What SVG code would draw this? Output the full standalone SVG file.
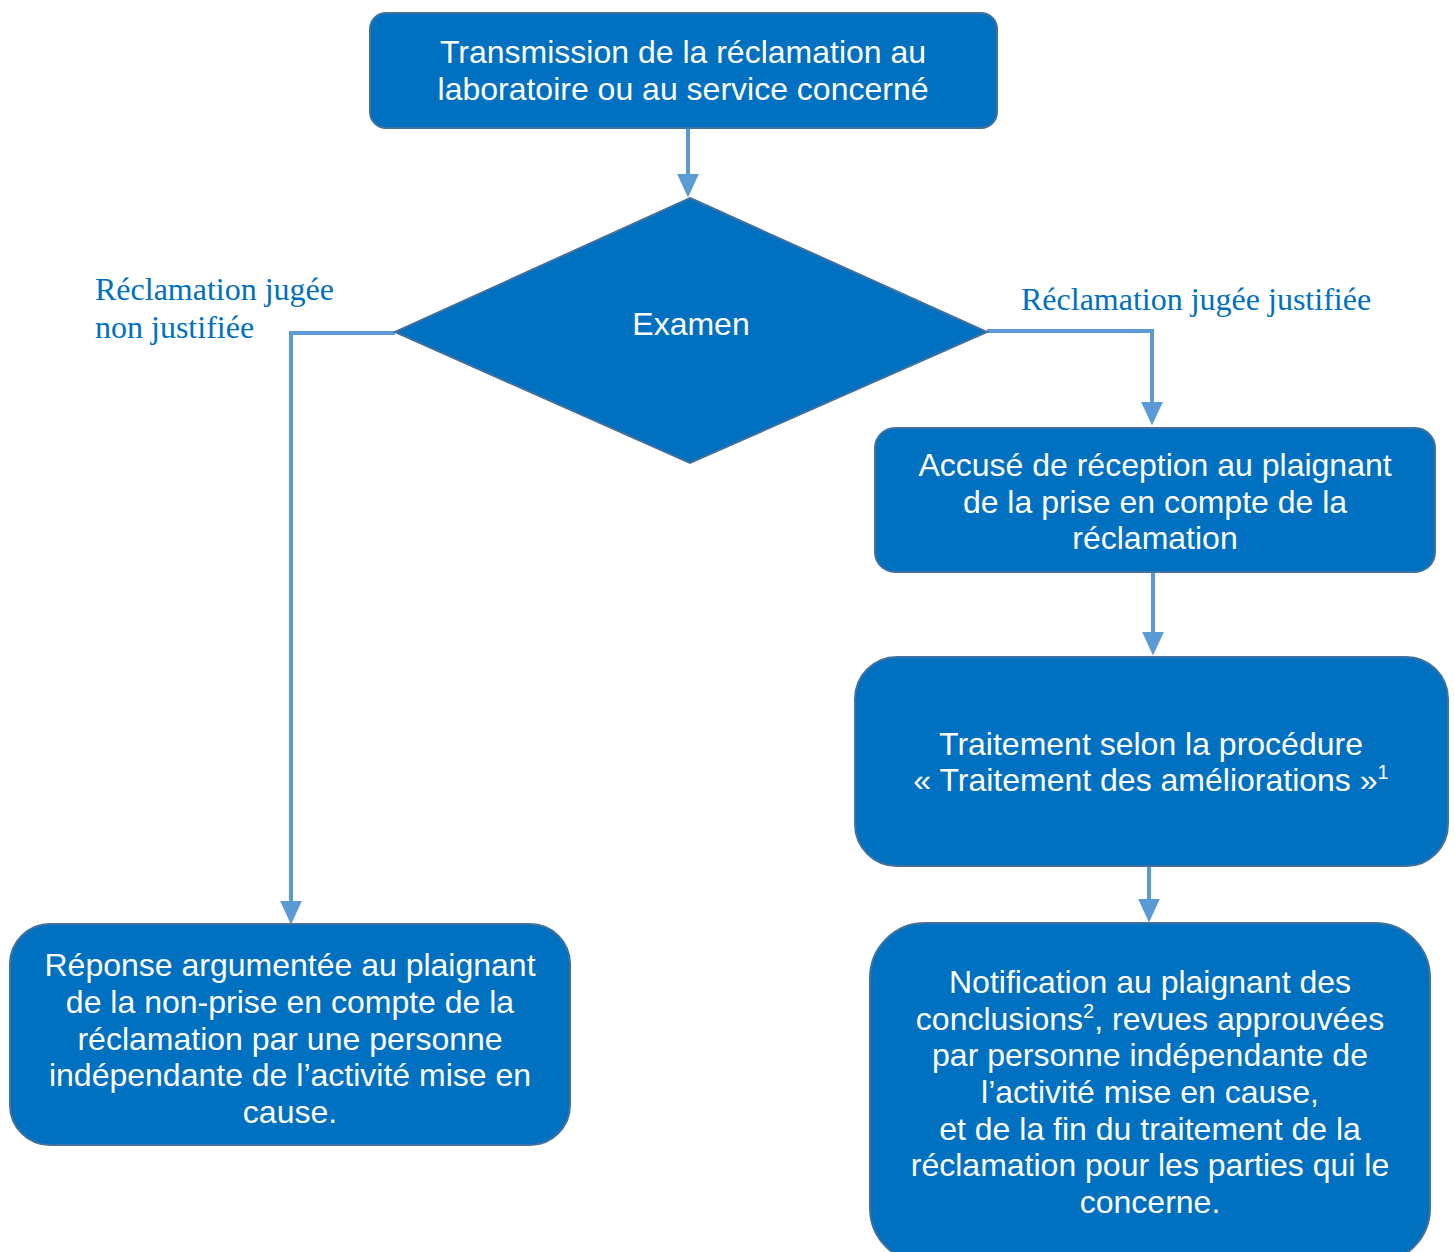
<svg xmlns="http://www.w3.org/2000/svg" width="1454" height="1252" viewBox="0 0 1454 1252">
<style>
.box{fill:#0070C0;stroke:#41719C;stroke-width:2}
.t{font-family:"Liberation Sans",Arial,sans-serif;font-size:32px;fill:#ffffff;text-anchor:middle}
.lbl{font-family:"Liberation Serif","Times New Roman",serif;font-size:32px;fill:#0070C0}
.con{fill:none;stroke:#5B9BD5;stroke-width:4}
.sup{font-size:20px}
</style>
<defs>
<marker id="ah" markerWidth="6" markerHeight="6.5" refX="5" refY="3" orient="auto" markerUnits="strokeWidth" viewBox="0 0 6.5 6">
<path d="M0,0 L6.5,3 L0,6 Z" fill="#5B9BD5"/>
</marker>
</defs>
<g id="connectors">
<path class="con" d="M688,128 V192" marker-end="url(#ah)"/>
<path class="con" d="M395,333 H291 V919" marker-end="url(#ah)"/>
<path class="con" d="M987,331 H1152 V420" marker-end="url(#ah)"/>
<path class="con" d="M1153,572 V650" marker-end="url(#ah)"/>
<path class="con" d="M1149,866 V917" marker-end="url(#ah)"/>
</g>
<g id="n1">
<rect class="box" x="370" y="13" width="627" height="115" rx="16"/>
<text class="t" x="683" y="63">Transmission de la réclamation au</text>
<text class="t" x="683" y="100">laboratoire ou au service concerné</text>
</g>
<g id="n2">
<polygon class="box" points="690,198 987,332 690,463 395,332"/>
<text class="t" x="691" y="335">Examen</text>
</g>
<g id="lbl-left">
<text class="lbl" x="95" y="300">Réclamation jugée</text>
<text class="lbl" x="95" y="338">non justifiée</text>
</g>
<g id="lbl-right">
<text class="lbl" x="1021" y="310">Réclamation jugée justifiée</text>
</g>
<g id="n3">
<rect class="box" x="875" y="428" width="560" height="144" rx="20"/>
<text class="t" x="1155" y="476">Accusé de réception au plaignant</text>
<text class="t" x="1155" y="513">de la prise en compte de la</text>
<text class="t" x="1155" y="549">réclamation</text>
</g>
<g id="n4">
<rect class="box" x="855" y="657" width="593" height="209" rx="42"/>
<text class="t" x="1151" y="755">Traitement selon la procédure</text>
<text class="t" x="1151" y="791">« Traitement des améliorations »<tspan class="sup" dy="-12">1</tspan></text>
</g>
<g id="n5">
<rect class="box" x="10" y="924" width="560" height="221" rx="40"/>
<text class="t" x="290" y="976">Réponse argumentée au plaignant</text>
<text class="t" x="290" y="1013">de la non-prise en compte de la</text>
<text class="t" x="290" y="1050">réclamation par une personne</text>
<text class="t" x="290" y="1086">indépendante de l’activité mise en</text>
<text class="t" x="290" y="1123">cause.</text>
</g>
<g id="n6">
<rect class="box" x="870" y="923" width="560" height="340" rx="55"/>
<text class="t" x="1150" y="993">Notification au plaignant des</text>
<text class="t" x="1150" y="1030">conclusions<tspan class="sup" dy="-12">2</tspan><tspan dy="12">, revues approuvées</tspan></text>
<text class="t" x="1150" y="1066">par personne indépendante de</text>
<text class="t" x="1150" y="1103">l’activité mise en cause,</text>
<text class="t" x="1150" y="1140">et de la fin du traitement de la</text>
<text class="t" x="1150" y="1176">réclamation pour les parties qui le</text>
<text class="t" x="1150" y="1213">concerne.</text>
</g>
</svg>
